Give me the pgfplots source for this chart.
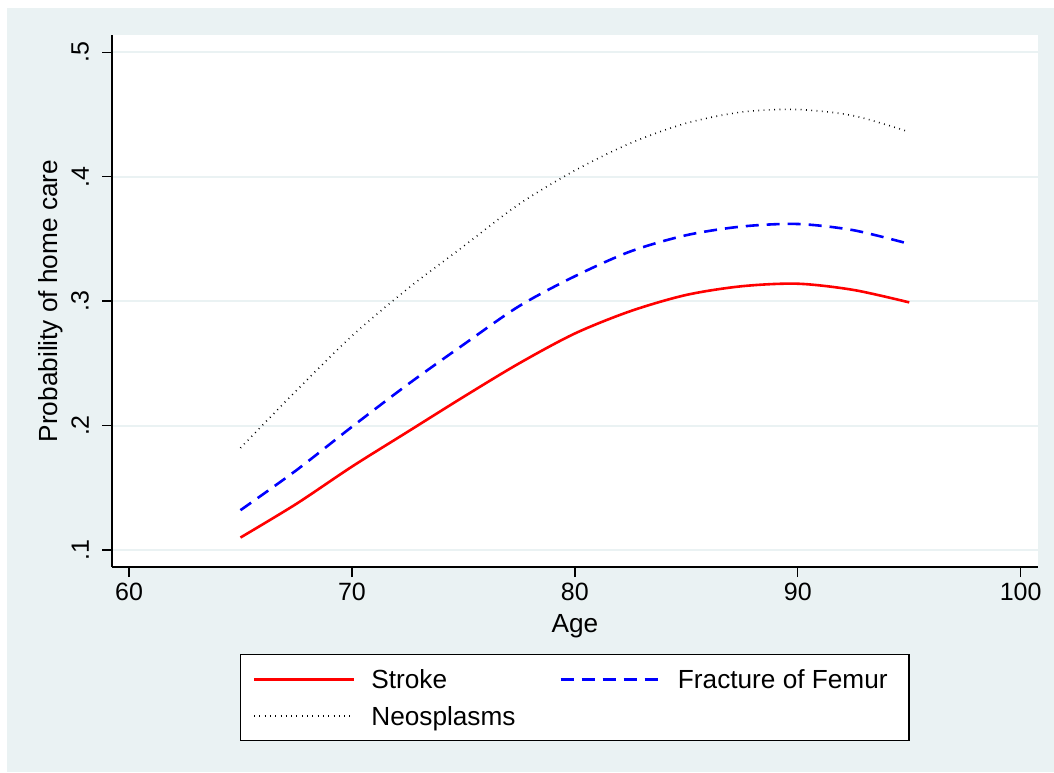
\documentclass[border=0pt]{standalone}
\usepackage{pgfplots}
\pgfplotsset{compat=1.18}
\usepackage{fontspec}
\setmainfont{Liberation Sans}
\definecolor{bgc}{RGB}{234,242,243}
\definecolor{gridc}{RGB}{234,242,243}
\newcommand{\bigf}{\fontsize{26.2}{31}\selectfont}
\newcommand{\tickf}{\fontsize{25}{30}\selectfont}

\pgfplotstableread{
age stroke femur neo
65   0.110 0.132 0.182
67.5 0.137 0.164 0.228
70   0.167 0.199 0.272
72.5 0.195 0.233 0.310
75   0.223 0.265 0.344
77.5 0.250 0.296 0.378
80   0.274 0.320 0.405
82.5 0.292 0.340 0.427
85   0.305 0.353 0.443
87.5 0.312 0.360 0.452
90   0.314 0.362 0.454
92.5 0.309 0.357 0.449
95   0.299 0.346 0.436
}\datatab

\begin{document}
\begin{tikzpicture}
\useasboundingbox (0,0) rectangle (1054pt,772pt);
\fill[white] (0,0) rectangle (1054pt,772pt);
\fill[bgc] (7pt,0) rectangle (1054pt,764pt);
\begin{axis}[
 at={(112pt,205pt)}, anchor=south west,
 scale only axis, width=925.7pt, height=532pt,
 xmin=59.237, xmax=100.763, ymin=0.08633, ymax=0.5139,
 axis x line*=bottom, axis y line*=left,
 axis line style={line width=1.4pt, -},
 axis background/.style={fill=white},
 font=\bigf,
 xtick={60,70,80,90,100}, xticklabels={60,70,80,90,100},
 ytick={0.1,0.2,0.3,0.4,0.5}, yticklabels={.1,.2,.3,.4,.5},
 tick align=outside, major tick length=10pt,
 every tick/.style={black, line width=1.4pt},
 ymajorgrids, major grid style={draw=gridc, line width=2pt},
 tick label style={font=\tickf},
 xticklabel style={anchor=north, inner sep=0pt},
 yticklabel style={rotate=90, anchor=south, inner sep=0pt},
 xticklabel shift=6pt, yticklabel shift=13pt,
 xlabel={Age}, ylabel={Probability of home care},
 label style={font=\bigf},
 xlabel style={at={(axis description cs:0.5,-0.08835)}, anchor=north, inner sep=0pt},
 ylabel style={at={(axis description cs:-0.0799,0.5)}, anchor=north, inner sep=0pt},
 legend columns=2,
 legend cell align=left,
 legend style={at={(axis description cs:0.5,-0.16353)}, anchor=north,
   draw=black, line width=1.4pt, fill=white, inner xsep=12pt, inner ysep=15pt,
   nodes={inner sep=0pt, text height=19pt, text depth=0pt},
   column sep=16pt, row sep=18pt, font=\bigf},
 legend image code/.code={\draw[#1] (0pt,0pt) -- (100pt,0pt);},
]
\addplot[red, line width=2.6pt, smooth] table[x=age, y=stroke] {\datatab};
\addlegendentry{\makebox[172pt][l]{Stroke}}
\addplot[blue, line width=2.6pt, dash pattern=on 13pt off 8pt, smooth] table[x=age, y=femur] {\datatab};
\addlegendentry{\makebox[219pt][l]{Fracture of Femur}}
\addplot[black, line width=1.6pt, dash pattern=on 0.8pt off 4.5pt, smooth] table[x=age, y=neo] {\datatab};
\addlegendentry{\makebox[172pt][l]{Neosplasms}}
\end{axis}
\end{tikzpicture}
\end{document}
